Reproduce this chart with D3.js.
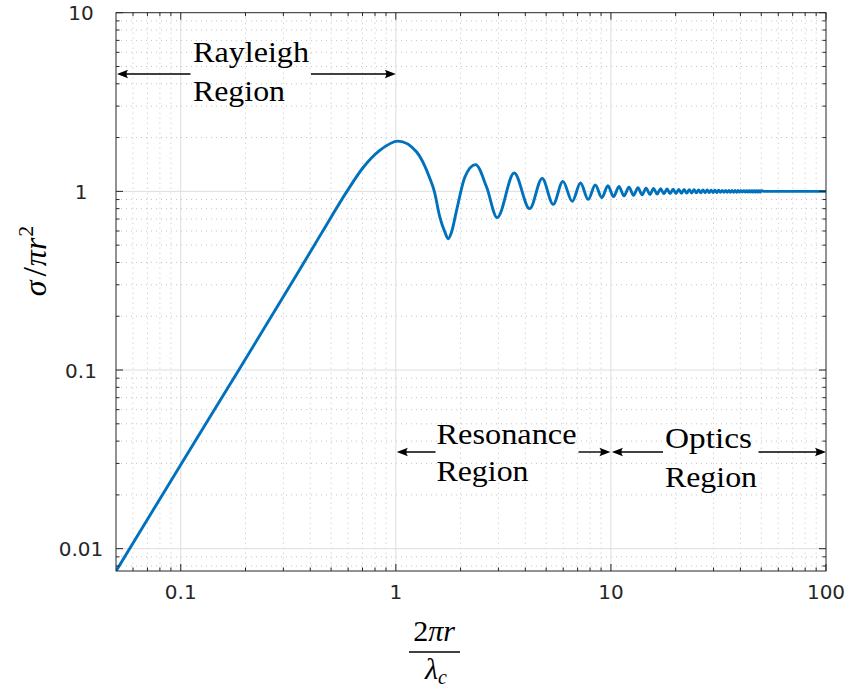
<!DOCTYPE html>
<html><head><meta charset="utf-8">
<script src="https://cdn.jsdelivr.net/npm/d3@7"></script>
<style>body{margin:0;background:#fff}svg{display:block}</style>
</head><body><svg id="c" width="848" height="687"></svg>
<script>
// normalised size 2*pi*r/lambda
const kr = [0.05, 0.1, 0.188, 0.2547, 0.3452, 0.45, 0.5895, 0.7047, 0.8425, 1.025, 1.25, 1.44, 1.51, 1.602, 1.69, 1.751, 1.816, 1.916, 2.094, 2.348, 2.642, 2.96, 3.55, 4.19, 4.79, 5.39, 5.98, 6.61, 7.22, 7.84, 8.46, 9.07, 9.68,
  10.29, 10.90, 11.51, 12.13, 12.74, 13.35, 13.96, 14.57, 15.18, 15.79, 16.40, 17.02, 17.63, 18.24, 18.85, 19.46, 20.07, 20.68, 21.29, 21.90, 22.52, 23.13, 23.74, 24.35, 24.96, 25.57, 26.18, 26.79, 27.41, 28.02, 28.63, 29.24, 29.85, 30.46, 31.07, 31.68, 32.30, 32.91, 33.52, 34.13, 34.74, 35.35, 35.96, 36.57, 37.19, 37.80, 38.41, 39.02, 39.63, 40.24, 40.85, 41.46, 42.08, 42.69, 43.30, 43.91, 44.52, 45.13, 45.74, 46.35, 46.97, 47.58, 48.19, 48.80, 49.41, 50.02, 52, 56, 65, 80, 100];
// normalised cross-section sigma/(pi r^2)
const rcs = [0.0075, 0.0295, 0.102, 0.186, 0.34, 0.58, 0.99, 1.36, 1.696, 1.91, 1.66, 1.18, 1.0, 0.718, 0.592, 0.543, 0.592, 0.783, 1.202, 1.411, 1.057, 0.713, 1.266, 0.80, 1.182, 0.846, 1.137, 0.879, 1.113, 0.902, 1.085, 0.922, 1.076,
  0.9344, 1.0646, 0.9437, 1.0554, 0.9509, 1.0482, 0.9567, 1.0426, 0.9614, 1.0380, 0.9653, 1.0341, 0.9686, 1.0309, 0.9714, 1.0282, 0.9737, 1.0259, 0.9758, 1.0238, 0.9776, 1.0221, 0.9792, 1.0205, 0.9806, 1.0192, 0.9818, 1.0179, 0.9830, 1.0168, 0.9839, 1.0159, 0.9849, 1.0150, 0.9857, 1.0141, 0.9864, 1.0134, 0.9871, 1.0127, 0.9877, 1.0121, 0.9883, 1.0116, 0.9888, 1.0110, 0.9893, 1.0106, 0.9898, 1.0101, 0.9901, 1.0097, 0.9905, 1.0093, 0.9909, 1.0089, 0.9913, 1.0085, 0.9917, 1.0082, 0.9920, 1.0079, 0.9923, 1.0076, 0.9926, 1.0073, 1.0, 1.0, 1.0, 1.0, 1.0];

const xMajorTicks = [0.1, 1, 10, 100];
const xTickLabels = ["0.1", "1", "10", "100"];
const yMajorTicks = [0.01, 0.1, 1, 10];
const yTickLabels = ["0.01", "0.1", "1", "10"];
const regionNames = ["Rayleigh", "Resonance", "Optics"];
const regionBounds = [0.05, 1, 10, 100];

const W = 848, H = 687;
const L = 116, R = 826, T = 12.7, B = 571;
const svg = d3.select("#c");
svg.append("rect").attr("width", W).attr("height", H).attr("fill", "#fff");

const x = d3.scaleLog().domain([0.05, 100]).range([L, R]);
const y = d3.scaleLog().domain([0.0075, 10]).range([B, T]);

// minor tick positions
const xMinor = [];
[0.01, 0.1, 1, 10].forEach(d => { for (let m = 2; m <= 9; m++) { const v = d * m; if (v > 0.05 && v < 100) xMinor.push(v); } });
const yMinor = [];
[0.001, 0.01, 0.1, 1].forEach(d => { for (let m = 2; m <= 9; m++) { const v = d * m; if (v > 0.0075 && v < 10) yMinor.push(v); } });

const axisCol = "#262626";
const g = svg.append("g");

// minor grid (dotted)
g.append("g").selectAll("line").data(xMinor).join("line")
  .attr("x1", d => x(d)).attr("x2", d => x(d)).attr("y1", T).attr("y2", B)
  .attr("stroke", "#c4c4c4").attr("stroke-width", 1).attr("stroke-dasharray", "1,4");
g.append("g").selectAll("line").data(yMinor).join("line")
  .attr("y1", d => y(d)).attr("y2", d => y(d)).attr("x1", L).attr("x2", R)
  .attr("stroke", "#c4c4c4").attr("stroke-width", 1).attr("stroke-dasharray", "1,4");
// major grid
g.append("g").selectAll("line").data(xMajorTicks.filter(d => d < 100)).join("line")
  .attr("x1", d => x(d)).attr("x2", d => x(d)).attr("y1", T).attr("y2", B)
  .attr("stroke", "#dedede").attr("stroke-width", 1);
g.append("g").selectAll("line").data(yMajorTicks.filter(d => d < 10)).join("line")
  .attr("y1", d => y(d)).attr("y2", d => y(d)).attr("x1", L).attr("x2", R)
  .attr("stroke", "#dedede").attr("stroke-width", 1);

// data curve
svg.append("clipPath").attr("id", "clip").append("rect").attr("x", L).attr("y", T).attr("width", R - L).attr("height", B - T);
const pts = kr.map((k, i) => [k, rcs[i]]);
svg.append("path").datum(pts)
  .attr("clip-path", "url(#clip)")
  .attr("fill", "none").attr("stroke", "#0072BD").attr("stroke-width", 2.9)
  .attr("stroke-linejoin", "round")
  .attr("d", d3.line().x(d => x(d[0])).y(d => y(d[1])).curve(d3.curveMonotoneX));

// axes with inward ticks, on all four sides
const majorLen = 7, minorLen = 3.5;
function ticks(sel, scale, vals, len, orient) {
  sel.selectAll(null).data(vals).join("line")
    .attr("stroke", axisCol).attr("stroke-width", 1)
    .each(function (d) {
      const s = d3.select(this), p = scale(d);
      if (orient === "bottom") s.attr("x1", p).attr("x2", p).attr("y1", B).attr("y2", B - len);
      if (orient === "top") s.attr("x1", p).attr("x2", p).attr("y1", T).attr("y2", T + len);
      if (orient === "left") s.attr("y1", p).attr("y2", p).attr("x1", L).attr("x2", L + len);
      if (orient === "right") s.attr("y1", p).attr("y2", p).attr("x1", R).attr("x2", R - len);
    });
}
const tg = svg.append("g");
ticks(tg, x, xMajorTicks, majorLen, "bottom"); ticks(tg, x, xMinor, minorLen, "bottom");
ticks(tg, x, xMajorTicks, majorLen, "top"); ticks(tg, x, xMinor, minorLen, "top");
ticks(tg, y, yMajorTicks, majorLen, "left"); ticks(tg, y, yMinor, minorLen, "left");
ticks(tg, y, yMajorTicks, majorLen, "right"); ticks(tg, y, yMinor, minorLen, "right");
svg.append("rect").attr("x", L).attr("y", T).attr("width", R - L).attr("height", B - T)
  .attr("fill", "none").attr("stroke", axisCol).attr("stroke-width", 1);

// tick labels
svg.append("g").selectAll("text").data(xMajorTicks).join("text")
  .attr("x", d => x(d)).attr("y", 599).attr("text-anchor", "middle")
  .attr("font-family", "DejaVu Sans").attr("font-size", 20).attr("fill", axisCol)
  .text((d, i) => xTickLabels[i]);
svg.append("g").selectAll("text").data(yMajorTicks).join("text")
  .attr("x", 81).attr("y", d => y(d) + 7.5).attr("text-anchor", "middle")
  .attr("font-family", "DejaVu Sans").attr("font-size", 20).attr("fill", axisCol)
  .text((d, i) => yTickLabels[i]);

// region annotations
const serif = "Liberation Serif";
function label(txt, px, py, len) {
  svg.append("text").attr("x", px).attr("y", py).attr("font-family", serif).attr("font-size", 29)
    .attr("fill", "#000").attr("textLength", len).attr("lengthAdjust", "spacingAndGlyphs").text(txt);
}
function arrow(x1, x2, py) {
  const dir = x2 > x1 ? 1 : -1;
  svg.append("line").attr("x1", x1).attr("x2", x2 - dir * 6).attr("y1", py).attr("y2", py)
    .attr("stroke", "#000").attr("stroke-width", 1.4);
  svg.append("path")
    .attr("d", `M${x2},${py} L${x2 - dir * 11},${py - 4.2} Q${x2 - dir * 8},${py} ${x2 - dir * 11},${py + 4.2} Z`)
    .attr("fill", "#000");
}
// Rayleigh
label(regionNames[0], 193, 62, 116); label("Region", 193, 101, 92);
arrow(190.5, x(regionBounds[0]) + 1, 74); arrow(311, x(regionBounds[1]), 74);
// Resonance
label(regionNames[1], 436.5, 443.5, 140); label("Region", 436.5, 481, 92);
arrow(435.5, x(regionBounds[1]) + 1, 452); arrow(578.5, x(regionBounds[2]) - 0.5, 452);
// Optics
label(regionNames[2], 665, 448, 87); label("Region", 665, 486.5, 92);
arrow(663, x(regionBounds[2]) + 1, 452); arrow(758.5, x(regionBounds[3]), 452);

// y label: sigma / pi r^2
const yl = svg.append("text").attr("transform", "translate(46,261) rotate(-90)")
  .attr("text-anchor", "middle").attr("font-family", serif).attr("font-size", 32).attr("fill", "#000");
yl.append("tspan").attr("font-style", "italic").text("σ");
yl.append("tspan").attr("dx", 4).attr("font-size", 34).text("/");
yl.append("tspan").attr("dx", 1).attr("font-style", "italic").text("πr");
yl.append("tspan").attr("font-size", 22).attr("dy", -13).attr("dx", 1).text("2");

// x label: 2 pi r / lambda_c
const xl = svg.append("text").attr("x", 434).attr("y", 641).attr("text-anchor", "middle")
  .attr("font-family", serif).attr("font-size", 30).attr("fill", "#000");
xl.append("tspan").text("2");
xl.append("tspan").attr("font-style", "italic").text("πr");
svg.append("line").attr("x1", 409).attr("x2", 460).attr("y1", 652).attr("y2", 652)
  .attr("stroke", "#000").attr("stroke-width", 1.6);
const dl = svg.append("text").attr("x", 436).attr("y", 679).attr("text-anchor", "middle")
  .attr("font-family", serif).attr("font-size", 30).attr("fill", "#000");
dl.append("tspan").attr("font-style", "italic").text("λ");
dl.append("tspan").attr("font-style", "italic").attr("font-size", 20).attr("dy", 5).text("c");
</script>
</body></html>
